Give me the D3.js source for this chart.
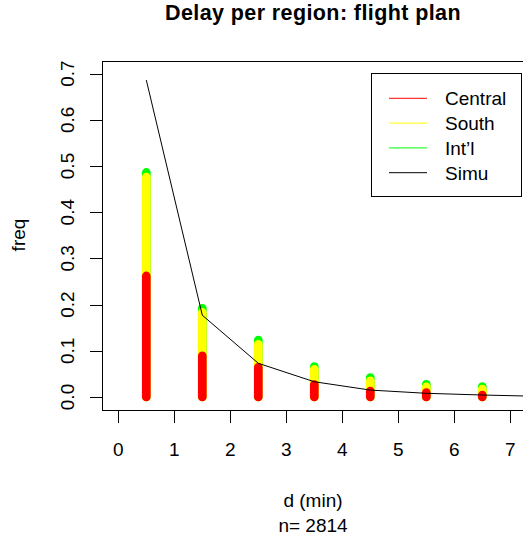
<!DOCTYPE html>
<html>
<head>
<meta charset="utf-8">
<script src="https://cdn.jsdelivr.net/npm/d3@7"></script>
<style>
  body { margin: 0; background: #fff; }
  text { font-family: "Liberation Sans", Arial, sans-serif; fill: #000; }
</style>
</head>
<body>
<div id="chart"></div>
<script>
// bins (minutes), stacked shares per region
const bins = [0.5, 1.5, 2.5, 3.5, 4.5, 5.5, 6.5]
const central = [0.262, 0.089, 0.064, 0.027, 0.013, 0.0095, 0.0043]
const south = [0.214, 0.094, 0.050, 0.033, 0.022, 0.0125, 0.0127]
const intl = [0.010, 0.009, 0.009, 0.006, 0.007, 0.0055, 0.0055]

// simulated curve
const simuX = [0.5, 1.5, 2.5, 3.5, 4.5, 5.5, 6.5, 7.5]
const simuY = [0.686, 0.177, 0.073, 0.033, 0.015, 0.008, 0.0043, 0.0015]

const xTicks = [0, 1, 2, 3, 4, 5, 6, 7]
const yTicks = [0, 0.1, 0.2, 0.3, 0.4, 0.5, 0.6, 0.7]
const legendNames = ['Central', 'South', "Int\u2019l", 'Simu']
const legendColors = ['#ff0000', '#ffff00', '#00ff00', '#000000']

const W = 523
const H = 535
const box = { left: 102.5, right: 523.5, top: 61.5, bottom: 410.5 }

const svg = d3.select('#chart').append('svg')
  .attr('width', W)
  .attr('height', H)

const x = d3.scaleLinear().domain([0, 7]).range([118.3, 510.3])
const y = d3.scaleLinear().domain([0, 0.7]).range([397, 73.6])

// clip to plot region like R does
svg.append('clipPath').attr('id', 'plotclip')
  .append('rect')
  .attr('x', box.left).attr('y', box.top)
  .attr('width', box.right - box.left).attr('height', box.bottom - box.top)

const plot = svg.append('g').attr('clip-path', 'url(#plotclip)')

// stacked bars: draw full total first, then overlay the lower parts
const rows = bins.map((b, i) => ({
  x: b,
  c: central[i],
  cs: central[i] + south[i],
  all: central[i] + south[i] + intl[i]
}))

const layers = [
  { key: 'all', color: legendColors[2] },
  { key: 'cs', color: legendColors[1] },
  { key: 'c', color: legendColors[0] }
]

layers.forEach(l => {
  plot.selectAll('line.bar-' + l.key)
    .data(rows)
    .enter()
    .append('line')
    .attr('class', 'bar-' + l.key)
    .attr('x1', d => x(d.x))
    .attr('x2', d => x(d.x))
    .attr('y1', y(0))
    .attr('y2', d => y(d[l.key]))
    .attr('stroke', l.color)
    .attr('stroke-width', 8.7)
    .attr('stroke-linecap', 'round')
})

const simu = simuX.map((v, i) => [v, simuY[i]])
plot.append('path')
  .datum(simu)
  .attr('fill', 'none')
  .attr('stroke', '#000')
  .attr('stroke-width', 1)
  .attr('d', d3.line().x(d => x(d[0])).y(d => y(d[1])))

// box
svg.append('rect')
  .attr('x', box.left).attr('y', box.top)
  .attr('width', box.right - box.left).attr('height', box.bottom - box.top)
  .attr('fill', 'none')
  .attr('stroke', '#000')
  .attr('stroke-width', 1)

// x axis
const xAxis = svg.append('g')
xAxis.selectAll('line')
  .data(xTicks)
  .enter()
  .append('line')
  .attr('x1', d => Math.round(x(d)) + 0.5)
  .attr('x2', d => Math.round(x(d)) + 0.5)
  .attr('y1', box.bottom)
  .attr('y2', box.bottom + 12.5)
  .attr('stroke', '#000')
xAxis.selectAll('text')
  .data(xTicks)
  .enter()
  .append('text')
  .attr('x', d => x(d))
  .attr('y', 456)
  .attr('text-anchor', 'middle')
  .attr('font-size', 19)
  .text(d => d)

// y axis
const yAxis = svg.append('g')
yAxis.selectAll('line')
  .data(yTicks)
  .enter()
  .append('line')
  .attr('x1', box.left - 12.5)
  .attr('x2', box.left)
  .attr('y1', d => Math.round(y(d)) + 0.5)
  .attr('y2', d => Math.round(y(d)) + 0.5)
  .attr('stroke', '#000')
yAxis.selectAll('text')
  .data(yTicks)
  .enter()
  .append('text')
  .attr('transform', d => 'translate(74,' + y(d) + ') rotate(-90)')
  .attr('text-anchor', 'middle')
  .attr('font-size', 19)
  .text(d => d3.format('.1f')(d))

// titles
svg.append('text')
  .attr('x', 313)
  .attr('y', 19.5)
  .attr('text-anchor', 'middle')
  .attr('font-size', 21.5)
  .attr('letter-spacing', 0.4)
  .attr('font-weight', 700)
  .text('Delay per region: flight plan')

svg.append('text')
  .attr('x', 313)
  .attr('y', 507)
  .attr('text-anchor', 'middle')
  .attr('font-size', 19)
  .text('d (min)')

svg.append('text')
  .attr('x', 313)
  .attr('y', 532)
  .attr('text-anchor', 'middle')
  .attr('font-size', 19)
  .text('n= 2814')

svg.append('text')
  .attr('transform', 'translate(25,235) rotate(-90)')
  .attr('text-anchor', 'middle')
  .attr('font-size', 19)
  .text('freq')

// legend
const legend = svg.append('g')
legend.append('rect')
  .attr('x', 371.5).attr('y', 73.5)
  .attr('width', 150).attr('height', 123)
  .attr('fill', '#fff')
  .attr('stroke', '#000')

legendNames.forEach((name, i) => {
  const ly = 98.3 + i * 24.8
  legend.append('line')
    .attr('x1', 389).attr('x2', 427)
    .attr('y1', ly).attr('y2', ly)
    .attr('stroke', legendColors[i])
    .attr('stroke-width', 1)
  legend.append('text')
    .attr('x', 445)
    .attr('y', ly + 6.8)
    .attr('font-size', 19)
    .text(name)
})
</script>
</body>
</html>
